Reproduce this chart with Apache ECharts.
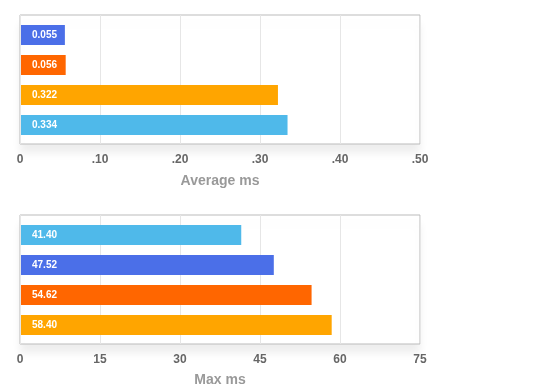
<!DOCTYPE html>
<html>
<head>
<meta charset="utf-8">
<script src="https://cdn.jsdelivr.net/npm/echarts@6/dist/echarts.min.js"></script>
<style>
html,body{margin:0;padding:0;background:#fff;}
#c{width:560px;height:390px;}
</style>
</head>
<body>
<div id="c"></div>
<script>
// ---- data ----
var avgCategories = ['A', 'B', 'C', 'D'];
var avgValues = [0.055, 0.056, 0.322, 0.334];
var avgColors = ['#4b6fe8', '#ff6600', '#ffa500', '#4fb9ea'];
var avgTicks = ['0', '.10', '.20', '.30', '.40', '.50'];

var maxCategories = ['D', 'A', 'B', 'C'];
var maxValues = [41.40, 47.52, 54.62, 58.40];
var maxColors = ['#4fb9ea', '#4b6fe8', '#ff6600', '#ffa500'];
var maxTicks = ['0', '15', '30', '45', '60', '75'];

// ---- chart ----
var chart = echarts.init(document.getElementById('c'), null, {renderer: 'canvas'});
var FONT = 'Liberation Sans, Arial, Helvetica, sans-serif';

function frameGrid(top) {
  return {
    left: 20, top: top, width: 400, height: 129, show: true,
    backgroundColor: '#fff', borderColor: '#bbbbbb', borderWidth: 1,
    shadowColor: 'rgba(0,0,0,0.07)', shadowBlur: 8, shadowOffsetY: 9,
    containLabel: false
  };
}
function barGrid(top) {
  return {left: 21, top: top, width: 399, height: 120, containLabel: false};
}
function frameXAxis(gi, max, interval, ticks, name, gap) {
  return {
    gridIndex: gi, type: 'value', min: 0, max: max, interval: interval,
    axisLine: {show: false}, axisTick: {show: false},
    splitLine: {show: true, lineStyle: {color: '#e6e6e6', width: 1}},
    axisLabel: {
      margin: 10, color: '#666', fontSize: 12, fontWeight: 'bold', fontFamily: FONT,
      formatter: function (v) { return ticks[Math.round(v / interval)]; }
    },
    name: name, nameLocation: 'middle', nameGap: gap,
    nameTextStyle: {color: '#999', fontSize: 14, fontWeight: 'bold', fontFamily: FONT}
  };
}
function hiddenXAxis(gi, max) {
  return {gridIndex: gi, type: 'value', min: 0, max: max, show: false};
}
function barSeries(xi, yi, values, colors, digits) {
  return {
    type: 'bar', xAxisIndex: xi, yAxisIndex: yi, barWidth: 20,
    data: values.map(function (v, i) { return {value: v, itemStyle: {color: colors[i]}}; }),
    label: {
      show: true, position: 'insideLeft', distance: 11, color: '#fff',
      fontSize: 10, fontWeight: 'bold', fontFamily: FONT,
      formatter: function (p) { return p.value.toFixed(digits); }
    },
    silent: true, animation: false
  };
}

chart.setOption({
  animation: false,
  grid: [frameGrid(15), barGrid(20), frameGrid(215), barGrid(220)],
  xAxis: [
    frameXAxis(0, 0.5, 0.1, avgTicks, 'Average ms', 30),
    hiddenXAxis(1, 0.5),
    frameXAxis(2, 75, 15, maxTicks, 'Max ms', 29),
    hiddenXAxis(3, 75)
  ],
  yAxis: [
    {gridIndex: 0, type: 'category', data: [], show: false},
    {gridIndex: 1, type: 'category', data: avgCategories, inverse: true, show: false},
    {gridIndex: 2, type: 'category', data: [], show: false},
    {gridIndex: 3, type: 'category', data: maxCategories, inverse: true, show: false}
  ],
  series: [
    barSeries(1, 1, avgValues, avgColors, 3),
    barSeries(3, 3, maxValues, maxColors, 2)
  ]
});
</script>
</body>
</html>
